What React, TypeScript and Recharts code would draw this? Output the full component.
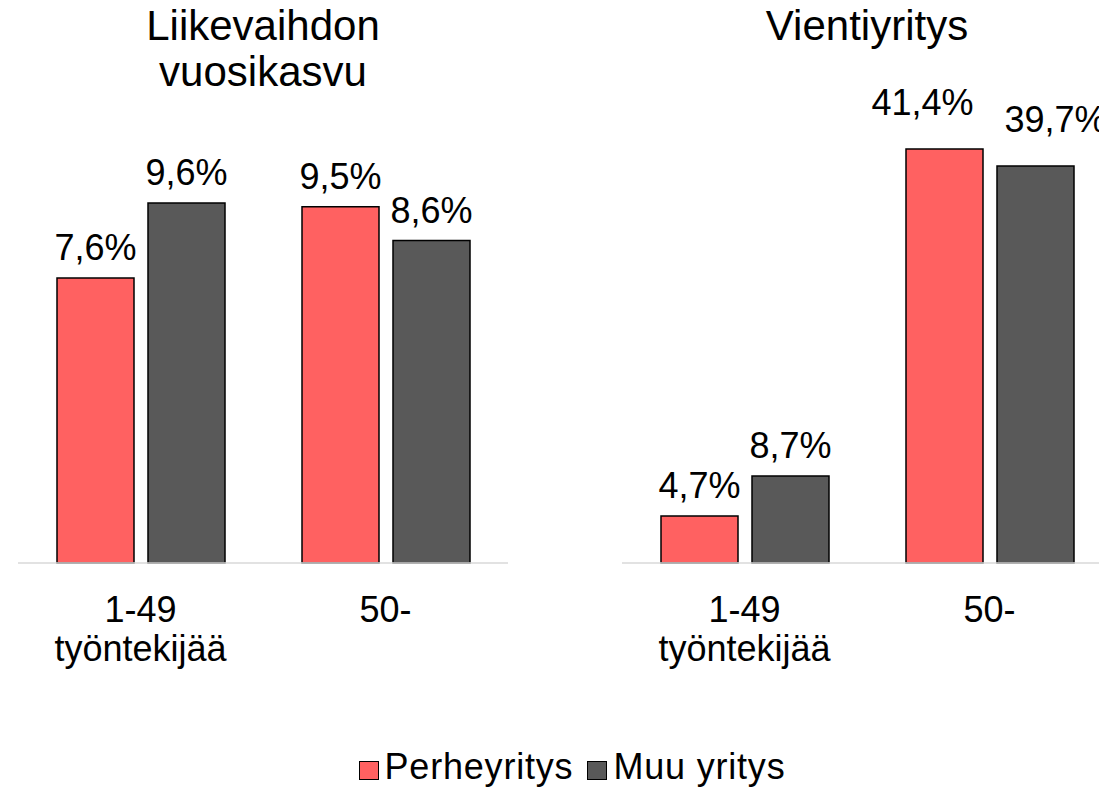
import React from 'react';
import { BarChart, Bar, XAxis, YAxis, LabelList } from 'recharts';

const categories = ['1-49\ntyöntekijää', '50-'];
const seriesNames = ['Perheyritys', 'Muu yritys'];
const seriesColors = ['#FF6161', '#595959'];

// Liikevaihdon vuosikasvu, %
const growthFamily = [7.6, 9.5];
const growthOther = [9.6, 8.6];

// Vientiyritys, %
const exportFamily = [4.7, 41.4];
const exportOther = [8.7, 39.7];

const FONT = '"Liberation Sans", Arial, sans-serif';

type Nudge = { dx: number; dy: number };

const fmt = (v: number) => v.toFixed(1).replace('.', ',') + '%';

const makeLabel = (nudges: Record<number, Nudge>) => (props: any) => {
  const { x, y, width, value, index } = props;
  const n = nudges[index] ?? { dx: 0, dy: 0 };
  return (
    <text
      x={Number(x) + Number(width) / 2 + n.dx}
      y={Number(y) - 18 + n.dy}
      textAnchor="middle"
      fontSize={36}
      fontFamily={FONT}
      fill="#000"
    >
      {fmt(Number(value))}
    </text>
  );
};

const CategoryTick = (props: any) => {
  const { x, y, payload } = props;
  const lines = String(payload.value).split('\n');
  return (
    <text x={x} y={y} textAnchor="middle" fontSize={36} fontFamily={FONT} fill="#000">
      {lines.map((l, i) => (
        <tspan key={i} x={x} dy={i === 0 ? 51 : 39}>
          {l}
        </tspan>
      ))}
    </text>
  );
};

type PanelProps = {
  family: number[];
  other: number[];
  max: number;
  nudgeFamily?: Record<number, Nudge>;
  nudgeOther?: Record<number, Nudge>;
};

function Panel({ family, other, max, nudgeFamily = {}, nudgeOther = {} }: PanelProps) {
  const data = categories.map((c, i) => ({ name: c, family: family[i], other: other[i] }));
  return (
    <BarChart
      width={530}
      height={700}
      data={data}
      margin={{ top: 113, right: 22, left: 18, bottom: 37 }}
      barSize={77}
      barGap={14}
    >
      <XAxis
        dataKey="name"
        axisLine={{ stroke: '#d9d9d9', strokeWidth: 1.5 }}
        tickLine={false}
        interval={0}
        height={100}
        tick={<CategoryTick />}
      />
      <YAxis hide domain={[0, max]} />
      <Bar dataKey="family" fill={seriesColors[0]} stroke="#000" strokeWidth={1.5} isAnimationActive={false}>
        <LabelList dataKey="family" content={makeLabel(nudgeFamily)} />
      </Bar>
      <Bar dataKey="other" fill={seriesColors[1]} stroke="#000" strokeWidth={1.5} isAnimationActive={false}>
        <LabelList dataKey="other" content={makeLabel(nudgeOther)} />
      </Bar>
    </BarChart>
  );
}

const titleStyle: React.CSSProperties = {
  position: 'absolute',
  top: 3,
  width: 490,
  textAlign: 'center',
  fontFamily: FONT,
  fontSize: 42,
  lineHeight: '46px',
  color: '#000',
};

export default function App() {
  return (
    <div
      style={{
        position: 'absolute',
        left: 0,
        top: 0,
        width: 1099,
        height: 793,
        overflow: 'hidden',
        background: '#fff',
      }}
    >
      <div style={{ position: 'absolute', left: 0, top: 0 }}>
        <Panel family={growthFamily} other={growthOther} max={12} />
      </div>
      <div style={{ position: 'absolute', left: 604, top: 0 }}>
        <Panel
          family={exportFamily}
          other={exportOther}
          max={45}
          nudgeFamily={{ 1: { dx: -22, dy: -16 } }}
          nudgeOther={{ 1: { dx: 20, dy: -16 } }}
        />
      </div>
      <div style={{ ...titleStyle, left: 18 }}>
        Liikevaihdon
        <br />
        vuosikasvu
      </div>
      <div style={{ ...titleStyle, left: 622 }}>Vientiyritys</div>
      <div
        style={{
          position: 'absolute',
          left: 0,
          top: 746,
          width: 1144,
          display: 'flex',
          justifyContent: 'center',
          alignItems: 'flex-start',
          fontFamily: FONT,
          fontSize: 36,
          letterSpacing: 0.8,
          lineHeight: '42px',
          color: '#000',
        }}
      >
        {seriesNames.map((s, i) => (
          <div key={s} style={{ display: 'flex', alignItems: 'flex-start', marginRight: i === 0 ? 14 : 0 }}>
            <span
              style={{
                display: 'inline-block',
                boxSizing: 'border-box',
                width: 20,
                height: 19,
                marginTop: 15,
                background: seriesColors[i],
                border: '1.5px solid #000',
                marginRight: 6,
              }}
            />
            <span>{s}</span>
          </div>
        ))}
      </div>
    </div>
  );
}
